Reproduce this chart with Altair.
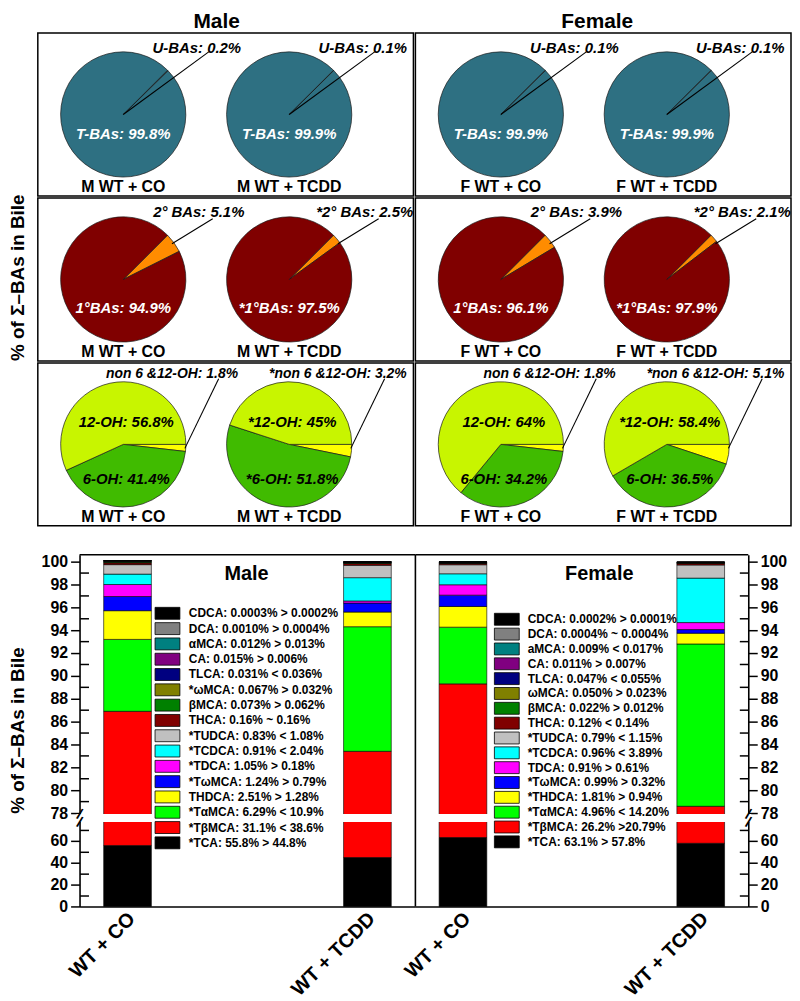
import math
import altair as alt
import pandas as pd

FONT = "Liberation Sans"
Y_TITLE = "% of Σ–BAs in Bile"

# ---------------- pie charts (top) ----------------
male_groups = ["M WT + CO", "M WT + TCDD"]
female_groups = ["F WT + CO", "F WT + TCDD"]
all_groups = male_groups + female_groups

tba_vals = [99.8, 99.9, 99.9, 99.9]
uba_vals = [0.2, 0.1, 0.1, 0.1]
tba_labels = ["T-BAs: 99.8%", "T-BAs: 99.9%", "T-BAs: 99.9%", "T-BAs: 99.9%"]
uba_labels = ["U-BAs: 0.2%", "U-BAs: 0.1%", "U-BAs: 0.1%", "U-BAs: 0.1%"]

pri_vals = [94.9, 97.5, 96.1, 97.9]
sec_vals = [5.1, 2.5, 3.9, 2.1]
pri_labels = ["1°BAs: 94.9%", "*1°BAs: 97.5%", "1°BAs: 96.1%", "*1°BAs: 97.9%"]
sec_labels = ["2° BAs: 5.1%", "*2° BAs: 2.5%", "2° BAs: 3.9%", "*2° BAs: 2.1%"]

oh12_vals = [56.8, 45.0, 64.0, 58.4]
oh6_vals = [41.4, 51.8, 34.2, 36.5]
non_vals = [1.8, 3.2, 1.8, 5.1]
oh12_labels = ["12-OH: 56.8%", "*12-OH: 45%", "12-OH: 64%", "*12-OH: 58.4%"]
oh6_labels = ["6-OH: 41.4%", "*6-OH: 51.8%", "6-OH: 34.2%", "6-OH: 36.5%"]
non_labels = ["non 6 &12-OH: 1.8%", "*non 6 &12-OH: 3.2%",
              "non 6 &12-OH: 1.8%", "*non 6 &12-OH: 5.1%"]

# ---------------- stacked bars (bottom) ----------------
bar_groups = ["WT + CO", "WT + TCDD"]
compounds = ["TCA", "TβMCA", "TαMCA", "THDCA", "TωMCA", "TDCA", "TCDCA", "TUDCA",
             "THCA", "βMCA", "ωMCA", "TLCA", "CA", "αMCA", "DCA", "CDCA"]
comp_colors = ["#000000", "#FF0000", "#00FF00", "#FFFF00", "#0000FF", "#FF00FF",
               "#00FFFF", "#C0C0C0", "#800000", "#008000", "#808000", "#000080",
               "#800080", "#008080", "#808080", "#000000"]
male_co = [55.8, 31.1, 6.29, 2.51, 1.24, 1.05, 0.91, 0.83, 0.16, 0.073, 0.067,
           0.031, 0.015, 0.012, 0.0010, 0.0003]
male_tcdd = [44.8, 38.6, 10.9, 1.28, 0.79, 0.18, 2.04, 1.08, 0.16, 0.062, 0.032,
             0.036, 0.006, 0.013, 0.0004, 0.0002]
female_co = [63.1, 26.2, 4.96, 1.81, 0.99, 0.91, 0.96, 0.79, 0.12, 0.022, 0.050,
             0.047, 0.011, 0.009, 0.0004, 0.0002]
female_tcdd = [57.8, 20.79, 14.20, 0.94, 0.32, 0.61, 3.89, 1.15, 0.14, 0.012, 0.023,
               0.055, 0.007, 0.017, 0.0004, 0.0001]
male_legend = ["CDCA: 0.0003% > 0.0002%", "DCA: 0.0010% > 0.0004%", "αMCA: 0.012% > 0.013%",
               "CA: 0.015% > 0.006%", "TLCA: 0.031% < 0.036%", "*ωMCA: 0.067% > 0.032%",
               "βMCA: 0.073% > 0.062%", "THCA: 0.16% ~ 0.16%", "*TUDCA: 0.83% < 1.08%",
               "*TCDCA: 0.91% < 2.04%", "*TDCA: 1.05% > 0.18%", "*TωMCA: 1.24% > 0.79%",
               "THDCA: 2.51% > 1.28%", "*TαMCA: 6.29% < 10.9%", "*TβMCA: 31.1% < 38.6%",
               "*TCA: 55.8% > 44.8%"]
female_legend = ["CDCA: 0.0002% > 0.0001%", "DCA: 0.0004% ~ 0.0004%", "aMCA: 0.009% < 0.017%",
                 "CA: 0.011% > 0.007%", "TLCA: 0.047% < 0.055%", "ωMCA: 0.050% > 0.023%",
                 "βMCA: 0.022% > 0.012%", "THCA: 0.12% < 0.14%", "*TUDCA: 0.79% < 1.15%",
                 "*TCDCA: 0.96% < 3.89%", "TDCA: 0.91% > 0.61%", "*TωMCA: 0.99% > 0.32%",
                 "*THDCA: 1.81% > 0.94%", "*TαMCA: 4.96% < 14.20%", "*TβMCA: 26.2% >20.79%",
                 "*TCA: 63.1%  > 57.8%"]
lower_ticks = [0, 10, 20, 30, 40, 50, 60, 70]
upper_ticks = [78, 79, 80, 81, 82, 83, 84, 85, 86, 87, 88, 89, 90, 91, 92, 93, 94,
               95, 96, 97, 98, 99, 100]

# ---------------- layout constants ----------------
CELL_W, CELL_H = 378, 164
CY = CELL_H / 2
PIE_R = 63
PIE_X = [86, 253]
HEAD_H = 16
BAR_H = 354
Y_DOMAIN = [0, 77.3, 78, 100.6]
Y_RANGE = [354, 269, 260, 0]
MAJOR = ("(datum.value <= 70 && datum.value % 20 == 0) || "
         "(datum.value >= 78 && datum.value % 2 == 0)")

BLUE = "#2E7082"
MAROON = "#800000"
ORANGE = "#FF8C00"
LIME = "#C8F500"
GREEN = "#40BB00"
YELLOW = "#FFFF00"

IND = dict(color="independent", theta="independent")
COLOR_OF = dict(zip(compounds, comp_colors))


def pie_cell(groups, idx, slices, offset_deg, texts, leader):
    rows = []
    for gi, g in enumerate(groups):
        for k, s in enumerate(slices):
            rows.append({"group": g, "part": s[0], "order": k, "value": s[1][idx + gi],
                         "col": s[2]})
    df = pd.DataFrame(rows)
    xenc = alt.X("group:N", scale=alt.Scale(type="point", domain=groups, range=PIE_X, padding=0),
                 axis=None)
    off = math.radians(offset_deg)
    arcs = (
        alt.Chart(df)
        .transform_window(cum="sum(value)", groupby=["group"], sort=[alt.SortField("order")])
        .transform_calculate(start="datum.cum - datum.value")
        .mark_arc(radius=PIE_R, stroke="#1a1a1a", strokeWidth=0.7)
        .encode(
            x=xenc,
            theta=alt.Theta("start:Q", stack=False,
                            scale=alt.Scale(domain=[0, 100], range=[off, off + 2 * math.pi],
                                            nice=False, zero=False)),
            theta2=alt.Theta2("cum:Q"),
            color=alt.Color("col:N", scale=None, legend=None),
        )
    )
    layers = [arcs]
    (x1, y1), (x2, y2) = leader
    ldf = pd.DataFrame({"group": groups})
    layers.append(
        alt.Chart(ldf)
        .mark_rule(color="black", strokeWidth=1.1, xOffset=x1, x2Offset=x2)
        .encode(x=xenc, x2=alt.X2("group:N"), y=alt.value(CY + y1), y2=alt.value(CY + y2))
    )
    for labels, dx, dy, color, size, style in texts:
        tdf = pd.DataFrame({"group": groups, "t": labels[idx: idx + 2]})
        layers.append(
            alt.Chart(tdf)
            .mark_text(dx=dx, dy=dy, color=color, fontSize=size, fontWeight="bold",
                       fontStyle=style)
            .encode(x=xenc, text="t:N")
        )
    return alt.layer(*layers).properties(
        width=CELL_W, height=CELL_H,
        view=alt.ViewBackground(stroke="black", strokeWidth=1.5),
    )


def header(text, dx):
    return (
        alt.Chart(pd.DataFrame({"t": [text]}))
        .mark_text(fontSize=21, fontWeight="bold", baseline="bottom", dx=dx)
        .encode(text="t:N", y=alt.value(HEAD_H + 1))
        .properties(width=CELL_W, height=HEAD_H)
    )


def strip(w, h, ycenter):
    return (
        alt.Chart(pd.DataFrame({"t": [Y_TITLE]}))
        .mark_text(angle=270, fontSize=19, fontWeight="bold", baseline="middle")
        .encode(text="t:N", x=alt.value(10), y=alt.value(ycenter))
        .properties(width=w, height=h)
    )


def yscale():
    return alt.Scale(domain=Y_DOMAIN, range=Y_RANGE, nice=False, zero=False)


def bar_panel(title, title_x, vals_co, vals_tcdd, legend_labels, width, orient, minor,
              leg, gap_x, divider):
    rows = []
    for g, vals in zip(bar_groups, [vals_co, vals_tcdd]):
        for k, (c, v) in enumerate(zip(compounds, vals)):
            rows.append({"grp": g, "compound": c, "order": k, "value": v,
                         "col": COLOR_OF[c]})
    df = pd.DataFrame(rows)
    color = alt.Color("col:N", scale=None, legend=None)
    yaxis = alt.Axis(
        orient=orient, values=lower_ticks + upper_ticks, title=None, grid=False,
        labelExpr=f"({MAJOR}) ? datum.label : ''",
        tickSize={"condition": {"test": MAJOR, "value": 9}, "value": minor},
        tickColor="black", tickWidth=1.5, domainColor="black", domainWidth=1.6,
        labelFontSize=16, labelFontWeight="bold", labelColor="black", labelPadding=3,
        labelOverlap=False, labelFlush=False,
    )
    xaxis = alt.Axis(
        title=None, labelAngle=-45, labelAlign="right", labelBaseline="top", labelPadding=2,
        labelOffset=-3, labelFontSize=20, labelFontWeight="bold", labelColor="black",
        ticks=False, domainColor="black", domainWidth=1.6, labelOverlap=False,
    )
    bars = (
        alt.Chart(df)
        .transform_window(cum="sum(value)", groupby=["grp"], sort=[alt.SortField("order")])
        .transform_calculate(start="datum.cum - datum.value")
        .mark_bar(size=48, stroke="black", strokeWidth=0.6)
        .encode(
            x=alt.X("grp:N", scale=alt.Scale(type="point", domain=bar_groups, padding=0.2),
                    axis=xaxis),
            y=alt.Y("start:Q", scale=yscale(), axis=yaxis, stack=False),
            y2=alt.Y2("cum:Q"),
            color=color,
        )
    )
    gap = (
        alt.Chart(pd.DataFrame({"lo": [77.3], "hi": [77.93]}))
        .mark_rect(color="white")
        .encode(x=alt.value(gap_x[0]), x2=alt.value(gap_x[1]),
                y=alt.Y("lo:Q", scale=yscale(), axis=None), y2=alt.Y2("hi:Q"))
    )
    axis_x = 0 if orient == "left" else width
    brk = (
        alt.Chart(pd.DataFrame({"v": [77.3, 77.93]}))
        .mark_text(text="/", fontSize=15, fontWeight="bold", angle=20, color="black")
        .encode(x=alt.value(axis_x), y=alt.Y("v:Q", scale=yscale(), axis=None))
    )
    one = pd.DataFrame({"t": [title]})
    top_rule = (
        alt.Chart(one).mark_rule(color="black", strokeWidth=1.6)
        .encode(x=alt.value(0), x2=alt.value(width), y=alt.value(0))
    )
    layers = [bars, gap, brk, top_rule]
    if divider:
        layers.append(
            alt.Chart(one).mark_rule(color="black", strokeWidth=1.6)
            .encode(x=alt.value(width), y=alt.value(0), y2=alt.value(BAR_H))
        )
    sw_x, txt_x, y0, y1 = leg
    ldf = pd.DataFrame({"label": legend_labels, "compound": compounds[::-1],
                        "col": [COLOR_OF[c] for c in compounds[::-1]]})
    lscale = alt.Scale(type="point", domain=legend_labels, range=[y0, y1], padding=0)
    layers.append(
        alt.Chart(ldf)
        .mark_point(shape="M-1,-0.48H1V0.48H-1Z", size=625, filled=True, opacity=1,
                    stroke="black", strokeWidth=0.8)
        .encode(x=alt.value(sw_x), y=alt.Y("label:N", scale=lscale, axis=None), color=color)
    )
    layers.append(
        alt.Chart(ldf)
        .mark_text(align="left", baseline="middle", fontSize=12, fontWeight="bold", color="black")
        .encode(x=alt.value(txt_x), y=alt.Y("label:N", scale=lscale, axis=None), text="label:N")
    )
    layers.append(
        alt.Chart(one).mark_text(fontSize=20, fontWeight="bold", color="black")
        .encode(x=alt.value(title_x), y=alt.value(19), text="t:N")
    )
    return (alt.layer(*layers).resolve_scale(y="independent")
            .properties(width=width, height=BAR_H))


def build(minor):
    subs = all_groups
    row_specs = [
        ([("U-BAs", uba_vals, BLUE), ("T-BAs", tba_vals, BLUE)], 45,
         [(tba_labels, 0, 20, "white", 15, "italic"),
          (uba_labels, 74, -67, "black", 15, "italic"),
          (subs, 0, 73, "black", 16, "normal")],
         ((0, 0), (86, -63))),
        ([("2°", sec_vals, ORANGE), ("1°", pri_vals, MAROON)], 45,
         [(pri_labels, 0, 29, "white", 15, "italic"),
          (sec_labels, 76, -68, "black", 15, "italic"),
          (subs, 0, 73, "black", 16, "normal")],
         ((49, -36), (90, -61))),
        ([("non", non_vals, YELLOW), ("6-OH", oh6_vals, GREEN), ("12-OH", oh12_vals, LIME)], 90,
         [(oh12_labels, 3, -23, "black", 15, "italic"),
          (oh6_labels, 3, 35, "black", 15, "italic"),
          (non_labels, 49, -71, "black", 14, "italic"),
          (subs, 0, 73, "black", 16, "normal")],
         ((62, 4), (96, -66))),
    ]
    rows = []
    for slices, off, texts, leader in row_specs:
        rows.append(alt.hconcat(
            pie_cell(male_groups, 0, slices, off, texts, leader),
            pie_cell(female_groups, 2, slices, off, texts, leader),
            spacing=0,
        ).resolve_scale(**IND))
    headers = alt.hconcat(header("Male", -9), header("Female", -4), spacing=0)
    top_grid = alt.vconcat(headers, *rows, spacing=0).resolve_scale(**IND)
    top_block = alt.hconcat(strip(29, HEAD_H + 3 * CELL_H + 6, HEAD_H + 1.5 * (CELL_H + 1.5)),
                            top_grid, spacing=0).resolve_scale(**IND)

    bar_m = bar_panel("Male", 168, male_co, male_tcdd, male_legend, 338, "left", minor,
                      (88.5, 110, 59, 290), (-3, 336), True)
    bar_f = bar_panel("Female", 185, female_co, female_tcdd, female_legend, 335, "right", minor,
                      (92, 113, 65, 289), (2, 338), False)
    bottom_block = alt.hconcat(strip(72, BAR_H, BAR_H / 2), bar_m, bar_f, spacing=0,
                               bounds="flush").resolve_scale(**IND)

    return (
        alt.vconcat(top_block, bottom_block, spacing=26)
        .resolve_scale(**IND)
        .properties(padding=0, background="white")
        .configure(font=FONT)
        .configure_view(stroke=None)
    )


try:
    chart = build(-9)
    chart.to_dict()
except Exception:
    chart = build(5)

chart.save("out.html", embed_options={"renderer": "svg", "actions": False})
